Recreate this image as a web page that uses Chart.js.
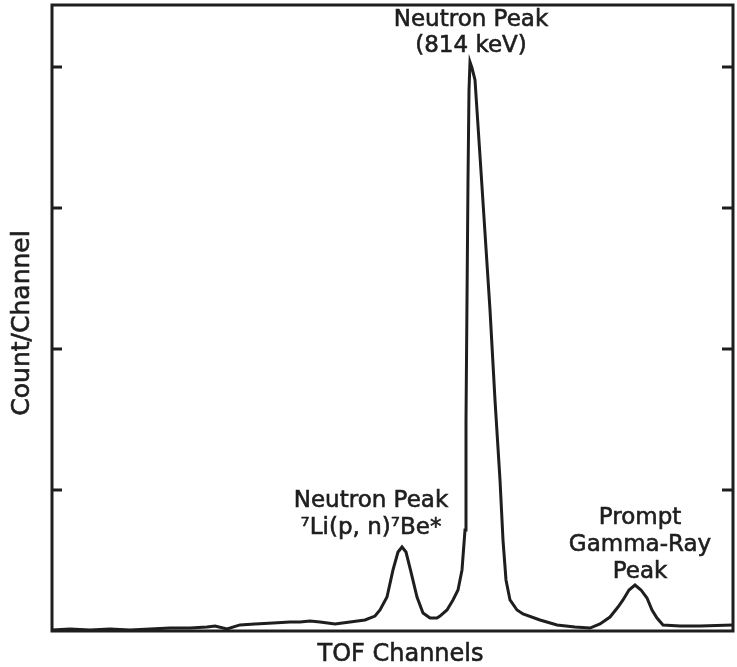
<!DOCTYPE html>
<html>
<head>
<meta charset="utf-8">
<script src="https://cdn.jsdelivr.net/npm/chart.js@4/dist/chart.umd.min.js"></script>
<style>
  html, body { margin: 0; padding: 0; background: #fff; }
  #wrap { width: 737px; height: 667px; }
</style>
</head>
<body>
<div id="wrap"><canvas id="tof"></canvas></div>
<script>
// TOF spectrum (channel, counts per channel)
const channels = [0, 9, 19, 29, 39, 49, 59, 69, 77.5, 81.5, 87.5, 94, 101.5, 110.5, 119, 124, 129, 134,
  141.5, 149, 156.5, 161.5, 164, 167.5, 170.5, 173, 175, 177, 179.5, 182.5, 185.5, 189, 192.5, 194,
  197.5, 200.5, 203, 205, 206.5, 207, 207.5, 208, 208.5, 209, 210, 211.5, 214, 216.5, 219, 221.5,
  224, 225.5, 227, 229, 232.5, 235.5, 244, 252.5, 261.5, 269, 274, 279, 283, 285.5, 288.5, 291.5,
  294.5, 297.5, 300, 302.5, 305.5, 314, 324, 340.5];
const counts = [7, 14, 7, 14, 7, 14, 21, 21, 28, 35, 14, 43, 50, 57, 64, 64, 71, 64,
  50, 64, 78, 106, 149, 241, 433, 560, 596, 560, 418, 241, 128, 92, 92, 106,
  149, 220, 291, 433, 716, 1496, 2348, 3199, 3837, 4035, 3993, 3908, 3369, 2823, 2277, 1638,
  1071, 645, 362, 220, 149, 121, 78, 43, 28, 21, 50, 99, 170, 220, 291, 326,
  291, 234, 149, 92, 43, 35, 35, 43];

// unlabeled tick marks on the count axis
const yTicks = [1000, 2000, 3000, 4000];

const xTitle = "TOF Channels";
const yTitle = "Count/Channel";

// peak labels: anchored at the peak, offsets in px
const peakLabels = [
  { ch: 209, y: 4035, dx: 1, lines: ["Neutron Peak", "(814 keV)"], dy: [-42, -16] },
  { ch: 175, y: 596, dx: -31, lines: ["Neutron Peak", "\u2077Li(p, n)\u2077Be*"], dy: [-46, -19] },
  { ch: 291.5, y: 326, dx: 5, lines: ["Prompt", "Gamma-Ray", "Peak"], dy: [-67, -40, -13] }
];

const ink = "#1e1e1e";
const font = "DejaVu Sans";

function inkText(ctx, s, x, y) {
  ctx.strokeText(s, x, y);
  ctx.fillText(s, x, y);
}

// frame + inward ticks, drawn under the curve
const framePlugin = {
  id: "frame",
  beforeDatasetsDraw(chart) {
    const { ctx, chartArea: a, scales } = chart;
    const ys = scales.y;
    ctx.save();
    ctx.strokeStyle = ink;
    ctx.lineWidth = 3;
    ctx.beginPath();
    ctx.rect(a.left, a.top, a.width, a.height);
    yTicks.forEach(v => {
      const py = ys.getPixelForValue(v);
      ctx.moveTo(a.left, py); ctx.lineTo(a.left + 10, py);
      ctx.moveTo(a.right, py); ctx.lineTo(a.right - 11, py);
    });
    ctx.stroke();
    ctx.restore();
  },
  afterDraw(chart) {
    const { ctx, chartArea: a, scales } = chart;
    const ys = scales.y, xs = scales.x;
    ctx.save();
    ctx.fillStyle = ink;
    ctx.strokeStyle = ink;
    ctx.lineWidth = 0.6;
    ctx.textAlign = "center";
    ctx.textBaseline = "middle";
    ctx.font = "23px '" + font + "'";
    peakLabels.forEach(l => {
      const px = xs.getPixelForValue(l.ch) + l.dx;
      const py = ys.getPixelForValue(l.y);
      l.lines.forEach((s, i) => inkText(ctx, s, px, py + l.dy[i]));
    });
    // axis titles
    ctx.font = "24px '" + font + "'";
    inkText(ctx, xTitle, (a.left + a.right) / 2 + 8, a.bottom + 24);
    ctx.translate(22, (a.top + a.bottom) / 2 + 5);
    ctx.rotate(-Math.PI / 2);
    ctx.font = "25px '" + font + "'";
    inkText(ctx, yTitle, 0, 0);
    ctx.restore();
  }
};

new Chart(document.getElementById("tof"), {
  type: "line",
  data: {
    datasets: [{
      data: channels.map((c, i) => ({ x: c, y: counts[i] })),
      borderColor: ink,
      borderWidth: 3,
      pointRadius: 0,
      tension: 0,
      fill: false
    }]
  },
  options: {
    responsive: true,
    maintainAspectRatio: false,
    animation: false,
    layout: { padding: { top: 5, right: 4, left: 0, bottom: 0 } },
    plugins: { legend: { display: false }, tooltip: { enabled: false } },
    scales: {
      x: {
        type: "linear", min: 0, max: 340.5,
        grid: { display: false }, border: { display: false }, ticks: { display: false },
        afterFit: s => { s.height = 36; }
      },
      y: {
        min: 0, max: 4440,
        grid: { display: false }, border: { display: false }, ticks: { display: false },
        afterFit: s => { s.width = 52; }
      }
    }
  },
  plugins: [framePlugin]
});
</script>
</body>
</html>
